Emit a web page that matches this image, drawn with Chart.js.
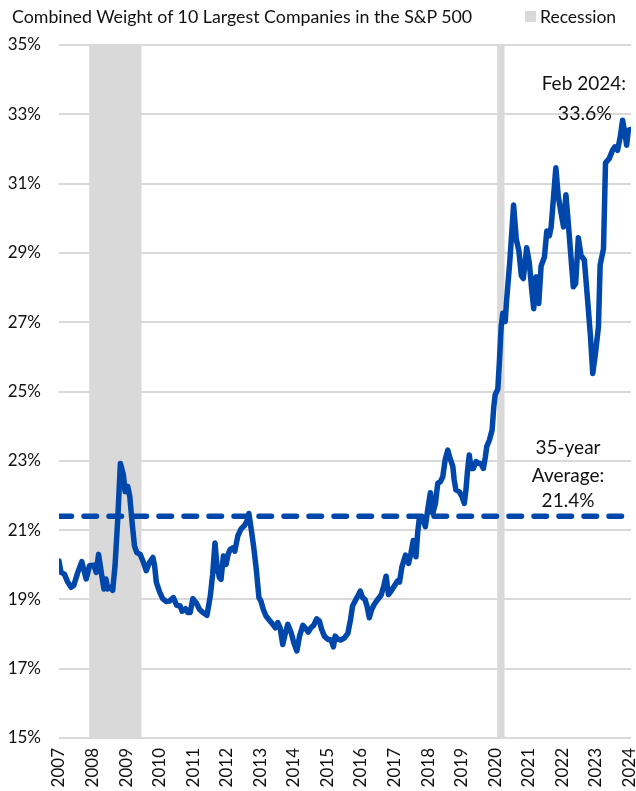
<!DOCTYPE html>
<html><head><meta charset="utf-8">
<script src="https://cdn.jsdelivr.net/npm/chart.js@4.4.1/dist/chart.umd.min.js"></script>
<style>
html,body{margin:0;padding:0;background:#fff;}
#wrap{position:relative;width:636px;height:791px;font-family:Lato, sans-serif;color:#111;overflow:hidden;}
canvas{position:absolute;left:0;top:0;}
.t{position:absolute;white-space:nowrap;line-height:1;}
</style></head><body>
<div id="wrap">
<canvas id="c" width="636" height="791"></canvas>
<div class="t" style="left:12px;top:8px;font-size:17.8px;">Combined Weight of 10 Largest Companies in the S&amp;P 500</div>
<div class="t" style="left:525px;top:11px;width:11px;height:11px;background:#d9d9d9;"></div>
<div class="t" style="left:540px;top:8px;font-size:17.5px;">Recession</div>
<div class="t" style="right:10px;top:73px;font-size:19px;">Feb 2024:</div>
<div class="t" style="right:24px;top:103px;font-size:19.5px;">33.6%</div>
<div class="t" style="left:518px;width:100px;text-align:center;top:437px;font-size:19px;">35-year</div>
<div class="t" style="left:518px;width:100px;text-align:center;top:465px;font-size:19px;">Average:</div>
<div class="t" style="left:518px;width:100px;text-align:center;top:490px;font-size:19px;">21.4%</div>
</div>
<script>
const dates = [2007.00,2007.06,2007.16,2007.26,2007.36,2007.44,2007.56,2007.68,2007.81,2007.91,
2008.04,2008.11,2008.18,2008.26,2008.34,2008.40,2008.45,2008.53,2008.60,2008.67,2008.75,2008.83,2008.92,2008.97,
2009.05,2009.11,2009.18,2009.25,2009.32,2009.42,2009.50,2009.60,2009.70,2009.80,2009.85,2009.90,
2010.00,2010.09,2010.19,2010.29,2010.41,2010.51,2010.61,2010.67,2010.77,2010.84,2010.91,2010.99,
2011.09,2011.19,2011.29,2011.41,2011.51,2011.58,2011.65,2011.71,2011.78,2011.83,2011.90,2011.98,
2012.04,2012.10,2012.18,2012.24,2012.33,2012.43,2012.53,2012.60,2012.66,2012.73,2012.80,2012.88,2012.96,
2013.02,2013.09,2013.17,2013.27,2013.37,2013.45,2013.52,2013.59,2013.67,2013.75,2013.82,2013.92,
2014.00,2014.09,2014.17,2014.27,2014.36,2014.43,2014.51,2014.59,2014.68,2014.76,2014.83,2014.91,
2015.01,2015.11,2015.18,2015.23,2015.31,2015.41,2015.51,2015.61,2015.69,2015.75,2015.85,2015.92,2015.98,
2016.05,2016.12,2016.18,2016.25,2016.32,2016.40,2016.50,2016.60,2016.68,2016.75,2016.82,2016.90,2016.99,
2017.09,2017.15,2017.22,2017.33,2017.42,2017.49,2017.56,2017.64,2017.69,2017.74,2017.82,2017.92,2017.99,
2018.07,2018.14,2018.22,2018.29,2018.37,2018.44,2018.51,2018.59,2018.64,2018.74,2018.78,2018.83,2018.93,
2019.01,2019.08,2019.13,2019.18,2019.23,2019.28,2019.35,2019.43,2019.50,2019.58,2019.65,2019.71,2019.75,2019.83,2019.91,2019.96,
2020.00,2020.08,2020.13,2020.18,2020.23,2020.30,2020.34,2020.44,2020.55,2020.63,2020.71,2020.78,2020.84,2020.94,
2021.02,2021.09,2021.15,2021.22,2021.30,2021.37,2021.47,2021.54,2021.62,2021.67,2021.74,2021.81,2021.88,2021.96,
2022.04,2022.11,2022.19,2022.26,2022.33,2022.40,2022.48,2022.56,2022.66,2022.76,2022.84,2022.91,2022.99,
2023.08,2023.13,2023.23,2023.29,2023.40,2023.50,2023.57,2023.65,2023.73,2023.80,2023.87,2023.92,2023.97,2024.03];
const weights = [20.11,19.78,19.73,19.50,19.35,19.40,19.78,20.09,19.59,19.97,
19.99,19.78,20.30,19.78,19.30,19.59,19.30,19.35,19.26,19.97,21.30,22.92,22.59,22.11,
22.26,21.97,21.21,20.54,20.35,20.30,20.11,19.83,20.07,20.21,19.97,19.50,
19.21,19.02,18.94,18.95,19.05,18.83,18.81,18.66,18.73,18.62,18.62,19.02,
18.90,18.71,18.62,18.54,19.10,19.72,20.63,19.96,19.63,19.58,20.25,20.01,
20.30,20.44,20.49,20.39,20.83,21.04,21.13,21.26,21.48,21.02,20.54,19.87,19.05,
18.95,18.71,18.52,18.40,18.28,18.18,18.33,18.18,17.70,18.04,18.28,18.04,
17.75,17.51,17.94,18.25,18.15,18.06,18.18,18.25,18.44,18.38,18.13,17.94,
17.85,17.83,17.63,17.94,17.85,17.83,17.89,18.02,18.42,18.81,19.00,19.12,19.24,
19.05,19.00,18.81,18.47,18.71,18.86,19.00,19.12,19.38,19.67,19.14,19.24,19.38,
19.53,19.50,19.93,20.28,20.04,20.33,20.70,20.23,20.91,21.34,21.39,21.10,21.58,
22.08,21.48,21.77,22.35,22.40,22.54,23.03,23.31,23.12,22.83,22.45,22.16,22.11,
21.97,21.77,22.16,22.74,23.17,22.78,22.78,22.98,22.93,22.91,22.78,23.12,23.41,23.60,23.89,24.56,
24.90,25.07,25.91,26.87,27.26,27.02,27.60,28.79,30.38,29.40,29.05,28.35,28.26,29.15,
28.70,27.95,27.39,28.31,27.54,28.62,28.88,29.63,29.50,29.75,30.60,31.46,30.65,30.18,
29.75,30.68,29.75,28.88,28.02,28.12,29.44,28.93,28.79,27.60,26.62,25.52,26.10,
26.87,28.65,29.12,31.60,31.72,31.96,32.06,31.96,32.35,32.83,32.44,32.11,32.54,32.56];
const averageWeight = 21.4;
const recessionStarts = [2007.90, 2020.06];
const recessionEnds = [2009.46, 2020.28];
const yearTicks = [2007,2008,2009,2010,2011,2012,2013,2014,2015,2016,2017,2018,2019,2020,2021,2022,2023,2024];
const percentTicks = [15,17,19,21,23,25,27,29,31,33,35];

const xMin = 2007, xMax = 2024.05;
const BLUE = '#0047AB';

const recessionPlugin = {
  id: 'recession',
  beforeDatasetsDraw(chart) {
    const {ctx, chartArea, scales} = chart;
    ctx.save();
    ctx.fillStyle = '#d9d9d9';
    recessionStarts.forEach((s, i) => {
      const x0 = scales.x.getPixelForValue(s);
      const x1 = scales.x.getPixelForValue(recessionEnds[i]);
      ctx.fillRect(x0, chartArea.top, x1 - x0, chartArea.bottom - chartArea.top);
    });
    ctx.restore();
  }
};

new Chart(document.getElementById('c'), {
  type: 'line',
  data: {
    datasets: [
      {
        label: 'Average',
        data: [{x: xMin, y: averageWeight}, {x: xMax, y: averageWeight}],
        borderColor: BLUE, borderWidth: 5.5, borderDash: [12.5, 12.5], borderCapStyle: 'round',
        pointRadius: 0, fill: false, order: 2
      },
      {
        label: 'Combined Weight',
        data: dates.map((d, i) => ({x: d, y: weights[i]})),
        borderColor: BLUE, borderWidth: 5.5, pointRadius: 0, tension: 0,
        borderJoinStyle: 'round', borderCapStyle: 'round', fill: false, order: 1
      }
    ]
  },
  options: {
    responsive: false,
    animation: false,
    layout: {padding: {top: 45, right: 5, left: 0, bottom: 0}},
    plugins: {legend: {display: false}, tooltip: {enabled: false}, title: {display: false}},
    scales: {
      x: {
        type: 'linear', min: xMin, max: xMax,
        afterBuildTicks: s => { s.ticks = yearTicks.map(v => ({value: v})); },
        afterFit: s => { s.height = 53; s.paddingLeft = 0; s.paddingRight = 0; },
        grid: {display: false, drawTicks: false},
        border: {display: false},
        ticks: {
          autoSkip: false, minRotation: 90, maxRotation: 90, padding: 10,
          font: {family: 'Lato', size: 17}, color: '#111',
          callback: v => String(v)
        }
      },
      y: {
        min: 15, max: 35,
        afterBuildTicks: s => { s.ticks = percentTicks.map(v => ({value: v})); },
        afterFit: s => { s.width = 59; s.paddingTop = 0; s.paddingBottom = 0; },
        grid: {color: '#d9d9d9', lineWidth: 2, drawTicks: false},
        border: {display: false},
        ticks: {
          padding: 18, font: {family: 'Lato', size: 17}, color: '#111',
          callback: v => v + '%'
        }
      }
    }
  },
  plugins: [recessionPlugin]
});
</script>
</body></html>
